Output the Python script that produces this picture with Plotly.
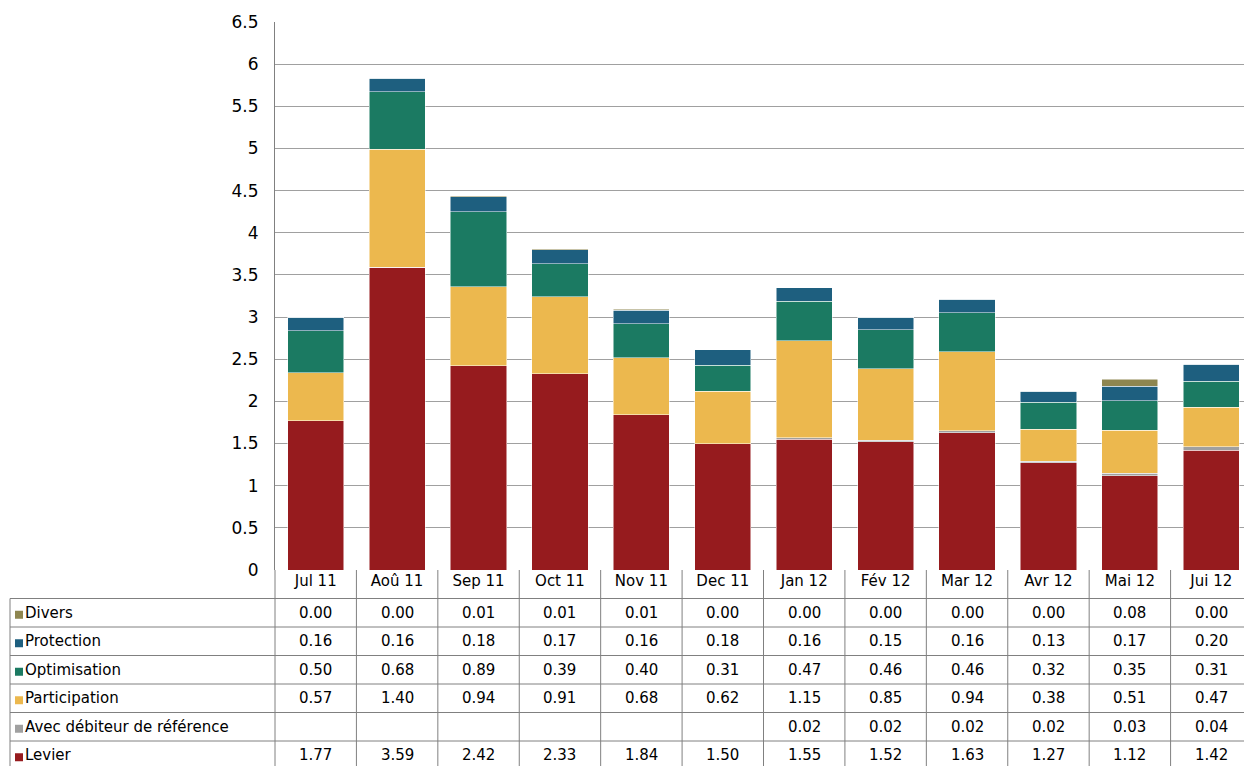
import plotly.graph_objects as go

months = ['Jul 11', 'Aoû 11', 'Sep 11', 'Oct 11', 'Nov 11', 'Dec 11',
          'Jan 12', 'Fév 12', 'Mar 12', 'Avr 12', 'Mai 12', 'Jui 12']
levier = [1.77, 3.59, 2.42, 2.33, 1.84, 1.50, 1.55, 1.52, 1.63, 1.27, 1.12, 1.42]
avec_debiteur = [None, None, None, None, None, None, 0.02, 0.02, 0.02, 0.02, 0.03, 0.04]
participation = [0.57, 1.40, 0.94, 0.91, 0.68, 0.62, 1.15, 0.85, 0.94, 0.38, 0.51, 0.47]
optimisation = [0.50, 0.68, 0.89, 0.39, 0.40, 0.31, 0.47, 0.46, 0.46, 0.32, 0.35, 0.31]
protection = [0.16, 0.16, 0.18, 0.17, 0.16, 0.18, 0.16, 0.15, 0.16, 0.13, 0.17, 0.20]
divers = [0.00, 0.00, 0.01, 0.01, 0.01, 0.00, 0.00, 0.00, 0.00, 0.00, 0.08, 0.00]

# stacking order bottom -> top
series = [
    ('Levier', levier, '#961B1E'),
    ('Avec débiteur de référence', avec_debiteur, '#A0A0A0'),
    ('Participation', participation, '#ECB84E'),
    ('Optimisation', optimisation, '#1B7A62'),
    ('Protection', protection, '#1E5F7F'),
    ('Divers', divers, '#8E8650'),
]

fig = go.Figure()
for name, vals, col in series:
    fig.add_trace(go.Bar(x=months, y=[v if v is not None else 0 for v in vals],
                         name=name, marker_color=col,
                         marker_line=dict(color='white', width=0.5)))

# page is drawn with an 8px body offset
W, H = 1244, 758
ml, mt, mb = 267, 14, 196
pw, ph = W - ml, H - mt - mb
rowh = 28.5 / ph
n = len(months)
line = dict(color='#808080', width=1)
shapes = []
ann = []

rows = list(reversed(series))
left = (2 - ml) / pw
top = -rowh  # below month header row
for r, (name, vals, col) in enumerate(rows):
    y0 = top - r * rowh
    y1 = y0 - rowh
    yc = (y0 + y1) / 2
    shapes.append(dict(type='line', xref='paper', yref='paper', x0=left, x1=1,
                       y0=y0, y1=y0, line=line))
    ks = 8
    shapes.append(dict(type='rect', xref='paper', yref='paper',
                       x0=left + 5 / pw, x1=left + (5 + ks) / pw,
                       y0=yc - ks / 2 / ph - 2 / ph, y1=yc + ks / 2 / ph - 2 / ph,
                       fillcolor=col, line=dict(width=0)))
    ann.append(dict(xref='paper', yref='paper', x=left + 13 / pw, y=yc,
                    text=name, showarrow=False, xanchor='left', yanchor='middle',
                    font=dict(size=15)))
    for i, v in enumerate(vals):
        if v is None:
            continue
        ann.append(dict(xref='paper', yref='paper', x=(i + 0.5) / n, y=yc,
                        text=f'{v:.2f}', showarrow=False, xanchor='center',
                        yanchor='middle', font=dict(size=15)))
bottom = top - len(rows) * rowh
shapes.append(dict(type='line', xref='paper', yref='paper', x0=left, x1=1,
                   y0=bottom, y1=bottom, line=line))
for i in range(n + 1):
    shapes.append(dict(type='line', xref='paper', yref='paper', x0=i / n, x1=i / n,
                       y0=0, y1=bottom, line=line))
shapes.append(dict(type='line', xref='paper', yref='paper', x0=left, x1=left,
                   y0=top, y1=bottom, line=line))

fig.update_layout(
    barmode='stack', bargap=0.31, showlegend=False,
    width=W, height=H, margin=dict(l=ml, r=0, t=mt, b=mb),
    plot_bgcolor='white', paper_bgcolor='white',
    font=dict(family='DejaVu Sans', size=15, color='black'),
    shapes=shapes, annotations=ann,
    xaxis=dict(showgrid=False, ticks='', tickfont=dict(size=15), ticklabelstandoff=0),
    yaxis=dict(range=[0, 6.5], dtick=0.5, showgrid=True, gridcolor='#A0A0A0',
               showline=True, linecolor='#808080', tickfont=dict(size=17),
               ticklabelstandoff=12, zeroline=False),
)
fig.write_html('out.html')
